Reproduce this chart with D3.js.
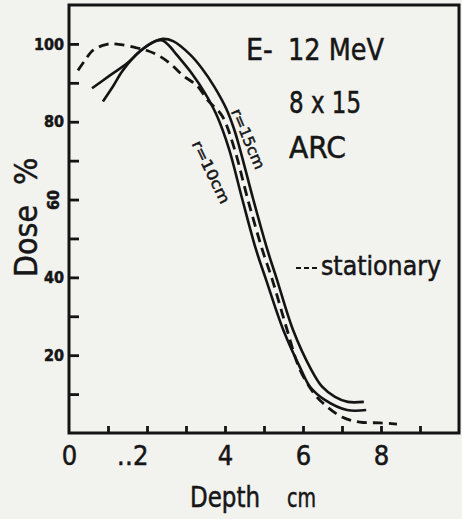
<!DOCTYPE html>
<html>
<head>
<meta charset="utf-8">
<script src="https://d3js.org/d3.v7.min.js"></script>
<style>
body { margin: 0; background: #f2f2ef; }
text { font-family: "DejaVu Sans Condensed", "DejaVu Sans", sans-serif; font-stretch: condensed; fill: #161616; stroke: #161616; stroke-width: 0.5; }
</style>
</head>
<body>
<script>
// depth (cm) / dose (%)
var r15Depth = [0.59, 1.05, 1.49, 1.82, 2.21, 2.41, 2.67, 3.10, 3.41, 3.72, 4.03, 4.23, 4.38, 4.72, 5.08, 5.33, 5.74, 6.21, 6.49, 6.82, 7.15, 7.56];
var r15Dose  = [88.6, 91.9, 95.0, 98.1, 100.7, 101.3, 100.7, 97.3, 93.7, 89.1, 83.4, 78.2, 73.1, 60.2, 47.3, 39.5, 26.6, 16.3, 11.9, 9.3, 8.0, 8.0];

var r10Depth = [0.87, 1.13, 1.38, 1.82, 2.21, 2.40, 2.58, 2.77, 3.15, 3.49, 3.79, 4.10, 4.44, 4.79, 5.05, 5.49, 5.95, 6.18, 6.56, 7.13, 7.62];
var r10Dose  = [85.2, 89.1, 93.2, 98.1, 100.7, 100.9, 99.4, 97.1, 92.4, 87.3, 81.6, 73.1, 60.2, 47.3, 39.5, 26.6, 16.3, 11.9, 8.5, 5.9, 5.9];

var statDepth = [0.23, 0.41, 0.62, 0.97, 1.26, 1.69, 2.0, 2.28, 2.59, 2.92, 3.28, 3.56, 3.92, 4.24, 4.58, 4.95, 5.21, 5.59, 5.92, 6.31, 6.51, 7.0, 7.46, 7.97, 8.41];
var statDose  = [93.2, 95.8, 98.4, 99.9, 99.9, 99.1, 98.3, 97.1, 95.0, 91.9, 89.3, 85.5, 81.6, 73.1, 60.2, 47.3, 39.5, 26.6, 16.3, 9.8, 7.7, 4.1, 2.8, 2.6, 2.3];

var yTicks = [10, 20, 30, 40, 50, 60, 70, 80, 90, 100];
var yLabels = {20: "20", 40: "40", 60: "60", 80: "80", 100: "100"};
var xTicks = [1, 2, 3, 4, 5, 6, 7, 8, 9];
var xLabelVals = [0, 2, 4, 6, 8];
var xLabels = ["0", "\u20252", "4", "6", "8"];

var w = 462, h = 519;
var svg = d3.select("body").append("svg").attr("width", w).attr("height", h);

var x = d3.scaleLinear().domain([0, 10]).range([69, 459]);
var y = d3.scaleLinear().domain([0, 110]).range([433, 5]);

var ink = "#141414";

// frame
svg.append("rect")
  .attr("x", x(0)).attr("y", y(110))
  .attr("width", x(10) - x(0)).attr("height", y(0) - y(110))
  .attr("fill", "none").attr("stroke", ink).attr("stroke-width", 3);

// y axis ticks + labels
var yAxis = svg.append("g").attr("transform", "translate(" + x(0) + ",0)")
  .call(d3.axisLeft(y).tickValues(yTicks).tickSize(-10).tickPadding(5)
    .tickFormat(function(d){ return yLabels[d] || ""; }));
yAxis.select(".domain").remove();
yAxis.selectAll("line").attr("stroke", ink).attr("stroke-width", 2.8);
yAxis.selectAll("text").attr("font-size", 16).attr("font-weight", "bold").attr("fill", ink);
yAxis.selectAll(".tick").filter(function(d){ return d === 60; }).select("text")
  .attr("text-anchor", "middle").attr("x", null).attr("dy", "0.35em")
  .attr("transform", "translate(-16,0) rotate(-90)");

// x axis minor ticks
var xAxis = svg.append("g").attr("transform", "translate(0," + y(0) + ")")
  .call(d3.axisBottom(x).tickValues(xTicks).tickSize(-7).tickFormat(""));
xAxis.select(".domain").remove();
xAxis.selectAll("line").attr("stroke", ink).attr("stroke-width", 2.8);

// x labels
var xLab = svg.append("g").attr("transform", "translate(0," + y(0) + ")")
  .call(d3.axisBottom(x).tickValues(xLabelVals).tickSize(0).tickPadding(13)
    .tickFormat(function(d, i){ return xLabels[i]; }));
xLab.select(".domain").remove();
xLab.selectAll("text").attr("font-size", 27).attr("fill", ink);
xLab.selectAll(".tick").filter(function(d){ return d === 2; }).select("text")
  .attr("text-anchor", "end").attr("dx", 1);

// curves
var line = d3.line()
  .x(function(d){ return x(d[0]); })
  .y(function(d){ return y(d[1]); })
  .curve(d3.curveCatmullRom.alpha(0.5));

function pts(a, b){ return a.map(function(v, i){ return [v, b[i]]; }); }

svg.append("path").attr("d", line(pts(statDepth, statDose)))
  .attr("fill", "none").attr("stroke", ink).attr("stroke-width", 2.8)
  .attr("stroke-dasharray", "10,6");
svg.append("path").attr("d", line(pts(r15Depth, r15Dose)))
  .attr("fill", "none").attr("stroke", ink).attr("stroke-width", 2.6);
svg.append("path").attr("d", line(pts(r10Depth, r10Dose)))
  .attr("fill", "none").attr("stroke", ink).attr("stroke-width", 2.6);

// curve labels
svg.append("text").attr("transform", "translate(248,139) rotate(67)")
  .attr("text-anchor", "middle").attr("dy", "0.35em")
  .attr("font-size", 15).attr("textLength", 64).attr("lengthAdjust", "spacingAndGlyphs")
  .text("r=15cm");
svg.append("text").attr("transform", "translate(211,172) rotate(64)")
  .attr("text-anchor", "middle").attr("dy", "0.35em")
  .attr("font-size", 15).attr("textLength", 68).attr("lengthAdjust", "spacingAndGlyphs")
  .text("r=10cm");

// annotation block
svg.append("text").attr("x", 246).attr("y", 60).attr("font-size", 30).text("E-");
svg.append("text").attr("x", 288).attr("y", 60).attr("font-size", 30)
  .attr("textLength", 96).attr("lengthAdjust", "spacingAndGlyphs").text("12 MeV");
svg.append("text").attr("x", 289).attr("y", 113).attr("font-size", 30)
  .attr("textLength", 72).attr("lengthAdjust", "spacingAndGlyphs").text("8 x 15");
svg.append("text").attr("x", 289).attr("y", 158).attr("font-size", 30)
  .attr("textLength", 57).attr("lengthAdjust", "spacingAndGlyphs").text("ARC");

// legend
svg.append("line").attr("x1", 296).attr("x2", 320).attr("y1", 268).attr("y2", 268)
  .attr("stroke", ink).attr("stroke-width", 2).attr("stroke-dasharray", "5,3");
svg.append("text").attr("x", 321).attr("y", 275).attr("font-size", 26)
  .attr("textLength", 120).attr("lengthAdjust", "spacingAndGlyphs").text("stationary");

// axis titles
svg.append("text").attr("x", 190).attr("y", 507).attr("font-size", 29)
  .attr("textLength", 70).attr("lengthAdjust", "spacingAndGlyphs").text("Depth");
svg.append("text").attr("x", 287).attr("y", 507).attr("font-size", 27)
  .attr("textLength", 29).attr("lengthAdjust", "spacingAndGlyphs").text("cm");
svg.append("text").attr("transform", "translate(37,277) rotate(-90)").attr("font-size", 32)
  .attr("textLength", 72).attr("lengthAdjust", "spacingAndGlyphs").text("Dose");
svg.append("text").attr("transform", "translate(37,185) rotate(-90)").attr("font-size", 32)
  .text("%");
</script>
</body>
</html>
